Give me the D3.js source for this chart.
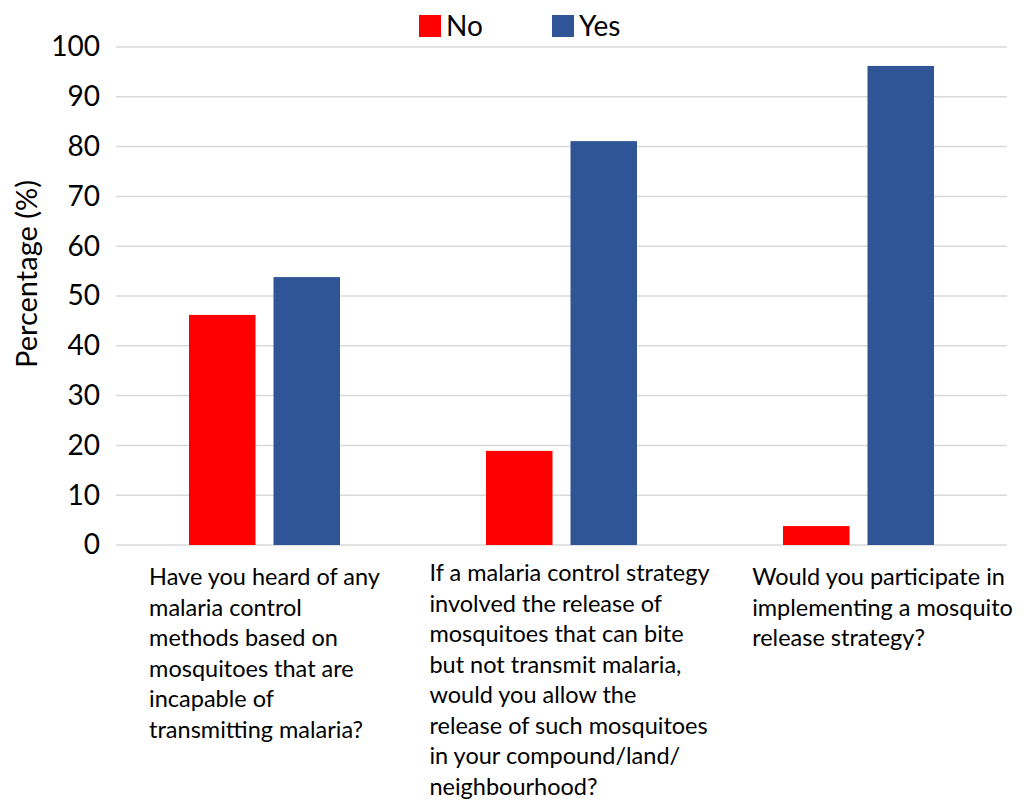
<!DOCTYPE html>
<html>
<head>
<meta charset="utf-8">
<script src="https://cdn.jsdelivr.net/npm/d3@7"></script>
<style>
  body { margin: 0; background: #fff; }
  text { font-family: Lato, "Open Sans", sans-serif; fill: #000; }
</style>
</head>
<body>
<div id="chart"></div>
<script>
const categories = [
  "Have you heard of any|malaria control|methods based on|mosquitoes that are|incapable of|transmitting malaria?",
  "If a malaria control strategy|involved the release of|mosquitoes that can bite|but not transmit malaria,|would you allow the|release of such mosquitoes|in your compound/land/|neighbourhood?",
  "Would you participate in|implementing a mosquito|release strategy?"
];
const seriesNames = ["No", "Yes"];
const noValues  = [46.2, 18.9, 3.8];
const yesValues = [53.8, 81.1, 96.2];
const yTicks = [0, 10, 20, 30, 40, 50, 60, 70, 80, 90, 100];
const colors = ["#ff0000", "#2f5597"];

const W = 1024, H = 801;
const margin = { top: 47, right: 17, bottom: 256, left: 116 };
const width  = W - margin.left - margin.right;
const height = H - margin.top - margin.bottom;

const rows = categories.map((c, i) => ({ cat: c, No: noValues[i], Yes: yesValues[i] }));

const svg = d3.select("#chart").append("svg")
  .attr("width", W)
  .attr("height", H);

const g = svg.append("g")
  .attr("transform", `translate(${margin.left},${margin.top})`);

const x0 = d3.scaleBand().domain(categories).range([0, width]).padding(0);
const x1 = d3.scaleBand().domain(seriesNames).range([0, x0.bandwidth()])
  .paddingInner(0.213).paddingOuter(0.864);
const y = d3.scaleLinear().domain([0, 100]).range([height, 0]);
const color = d3.scaleOrdinal().domain(seriesNames).range(colors);

// gridlines
g.append("g")
  .selectAll("line")
  .data(yTicks)
  .join("line")
  .attr("x1", 0)
  .attr("x2", width)
  .attr("y1", d => y(d))
  .attr("y2", d => y(d))
  .attr("stroke", "#d9d9d9")
  .attr("stroke-width", 1.5);

// y axis labels
const yAxis = g.append("g")
  .call(d3.axisLeft(y).tickValues(yTicks).tickSize(0).tickPadding(16));
yAxis.select(".domain").remove();
yAxis.selectAll("text")
  .style("font-size", "28px")
  .style("font-family", "Lato, sans-serif")
  .attr("fill", "#000");

// bars
g.append("g")
  .selectAll("g")
  .data(rows)
  .join("g")
  .attr("transform", d => `translate(${x0(d.cat)},0)`)
  .selectAll("rect")
  .data(d => seriesNames.map(k => ({ key: k, value: d[k] })))
  .join("rect")
  .attr("x", d => x1(d.key))
  .attr("width", x1.bandwidth())
  .attr("y", d => y(d.value))
  .attr("height", d => y(0) - y(d.value))
  .attr("fill", d => color(d.key));

// category labels: left-aligned block, roughly centred under group
// (excel nudges the 2nd and 3rd blocks right a bit)
const nudge = [0, 8, 24];
const labelG = g.append("g").attr("transform", `translate(0,${height})`);
categories.forEach((c, ci) => {
  const lines = c.split("|");
  const t = labelG.append("text")
    .style("font-size", "23.5px")
    .attr("y", ci === 1 ? 36 : 40);
  lines.forEach((ln, i) => {
    t.append("tspan").attr("x", 0).attr("dy", i === 0 ? 0 : 30.5).text(ln);
  });
  const bw = t.node().getBBox().width;
  const left = x0(c) + x0.bandwidth() / 2 - bw / 2 + nudge[ci];
  t.selectAll("tspan").attr("x", left);
});

// y axis title
svg.append("text")
  .attr("transform", `translate(37,274) rotate(-90)`)
  .attr("text-anchor", "middle")
  .style("font-size", "29px")
  .text("Percentage (%)");

// legend
const legend = svg.append("g").attr("transform", "translate(419,15)");
const legendX = d3.scalePoint().domain(seriesNames).range([0, 133]);
const item = legend.selectAll("g")
  .data(seriesNames)
  .join("g")
  .attr("transform", d => `translate(${legendX(d)},0)`);
item.append("rect")
  .attr("width", 22)
  .attr("height", 22)
  .attr("fill", d => color(d));
item.append("text")
  .attr("x", 27)
  .attr("y", 21)
  .style("font-size", "28px")
  .text(d => d);
</script>
</body>
</html>
